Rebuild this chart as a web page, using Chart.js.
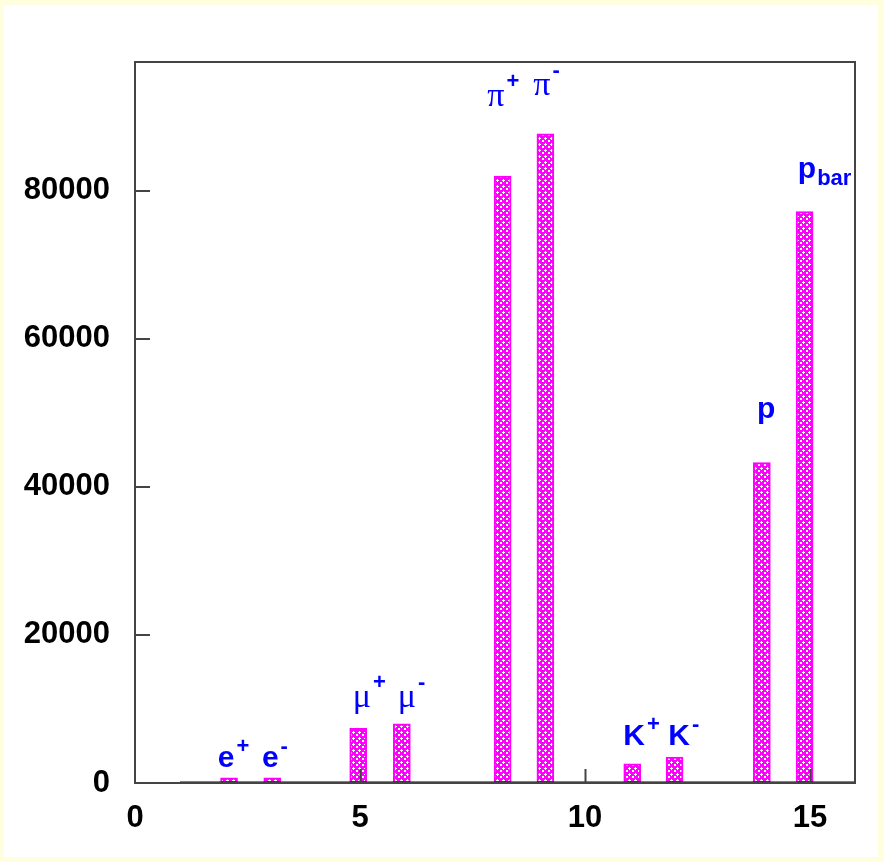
<!DOCTYPE html>
<html>
<head>
<meta charset="utf-8">
<script src="https://cdn.jsdelivr.net/npm/chart.js@4"></script>
<style>
  body { margin: 0; background: #ffffe0; }
  #panel { position: absolute; left: 4px; top: 5px; width: 874px; height: 852px; background: #fff; }
</style>
</head>
<body>
<div id="panel"><canvas id="particles" width="874" height="852"></canvas></div>
<script>
// bar positions (x) and counts
const particleX = [2.09, 3.05, 4.96, 5.93, 8.17, 9.12, 11.05, 11.99, 13.93, 14.88];
const counts = [700, 700, 7400, 8000, 82000, 87700, 2600, 3500, 43300, 77200];

// axis tick labels
const xTicks = [0, 5, 10, 15];
const yTicks = [0, 20000, 40000, 60000, 80000];

// particle names, drawn above the bars (x, y in data units)
const labelNames = ['e', 'e', 'μ', 'μ', 'π', 'π', 'K', 'K', 'p', 'p'];
const labelSups = ['+', '-', '+', '-', '+', '-', '+', '-', '', ''];
const labelSubs = ['', '', '', '', '', '', '', '', '', 'bar'];
const labelX = [1.84, 2.82, 4.84, 5.84, 7.83, 8.85, 10.85, 11.85, 13.82, 14.73];
const labelY = [2200, 2200, 10300, 10300, 91500, 93000, 5100, 5100, 49300, 81700];

// zero line under the histogram
const baseX = [1, 16];
const baseY = [0, 0];

const greek = ['μ', 'π'];

function hatch() {
  const c = document.createElement('canvas');
  c.width = 6; c.height = 6;
  const g = c.getContext('2d');
  g.fillStyle = '#ff00ff';
  g.fillRect(0, 0, 6, 6);
  g.fillStyle = '#ffffff';
  g.fillRect(1, 0, 1, 3);
  g.fillRect(0, 1, 3, 1);
  g.fillRect(4, 3, 2, 2);
  return g.createPattern(c, 'repeat');
}

const frame = {
  id: 'frame',
  afterDraw(chart) {
    const { ctx, chartArea: a, scales } = chart;
    ctx.save();
    ctx.strokeStyle = '#444';
    ctx.lineWidth = 2;
    ctx.strokeRect(a.left, a.top, a.right - a.left, a.bottom - a.top);
    ctx.beginPath();
    scales.y.ticks.forEach(t => {
      if (t.value === 0) return;
      const py = Math.round(scales.y.getPixelForValue(t.value));
      ctx.moveTo(a.left, py);
      ctx.lineTo(a.left + 15, py);
    });
    scales.x.ticks.forEach(t => {
      if (t.value === 0) return;
      const px = Math.round(scales.x.getPixelForValue(t.value)) + 0.5;
      ctx.moveTo(px, a.bottom);
      ctx.lineTo(px, a.bottom - 14);
    });
    ctx.stroke();

    // particle labels
    ctx.fillStyle = '#0000ff';
    ctx.textBaseline = 'alphabetic';
    ctx.textAlign = 'left';
    labelNames.forEach((name, i) => {
      const px = scales.x.getPixelForValue(labelX[i]);
      const py = scales.y.getPixelForValue(labelY[i]);
      const isGreek = greek.includes(name);
      ctx.font = isGreek ? '34px "Liberation Serif", serif' : 'bold 30px "Liberation Sans", Arial, sans-serif';
      ctx.fillText(name, px, py);
      const w = ctx.measureText(name).width;
      if (labelSups[i]) {
        ctx.font = 'bold 22px "Liberation Sans", Arial, sans-serif';
        ctx.fillText(labelSups[i], px + w + 2, py - (isGreek ? 18 : 14));
      }
      if (labelSubs[i]) {
        ctx.font = 'bold 22px "Liberation Sans", Arial, sans-serif';
        ctx.fillText(labelSubs[i], px + w + 1, py + 7);
      }
    });
    ctx.restore();
  }
};

const tickFont = { family: '"Liberation Sans", Arial, sans-serif', size: 31, weight: 'bold' };

new Chart(document.getElementById('particles').getContext('2d'), {
  type: 'bar',
  data: {
    datasets: [
      {
        type: 'line',
        data: baseX.map((x, i) => ({ x, y: baseY[i] })),
        borderColor: '#000',
        borderWidth: 3,
        pointRadius: 0,
        order: 0,
      },
      {
        data: particleX.map((x, i) => ({ x, y: counts[i] })),
        backgroundColor: hatch(),
        borderColor: '#ff00ff',
        borderWidth: 2,
        borderSkipped: false,
        barThickness: 17,
        order: 1,
      },
    ],
  },
  options: {
    responsive: false,
    animation: false,
    layout: { padding: { left: 0, top: 57, right: 23, bottom: 0 } },
    plugins: {
      legend: { display: false },
      tooltip: { enabled: false },
    },
    scales: {
      x: {
        type: 'linear',
        min: 0,
        max: 16,
        offset: false,
        grid: { display: false },
        border: { display: false },
        ticks: { color: '#000', font: tickFont, padding: 9, maxRotation: 0, callback: v => String(v) },
        afterBuildTicks(scale) { scale.ticks = xTicks.map(v => ({ value: v })); },
        afterFit(scale) { scale.height = 74; },
      },
      y: {
        min: 0,
        max: 97400,
        grid: { display: false },
        border: { display: false },
        ticks: { color: '#000', font: tickFont, padding: 17, callback: v => String(v) },
        afterBuildTicks(scale) { scale.ticks = yTicks.map(v => ({ value: v })); },
        afterFit(scale) { scale.width = 131; },
      },
    },
  },
  plugins: [frame],
});
</script>
</body>
</html>
